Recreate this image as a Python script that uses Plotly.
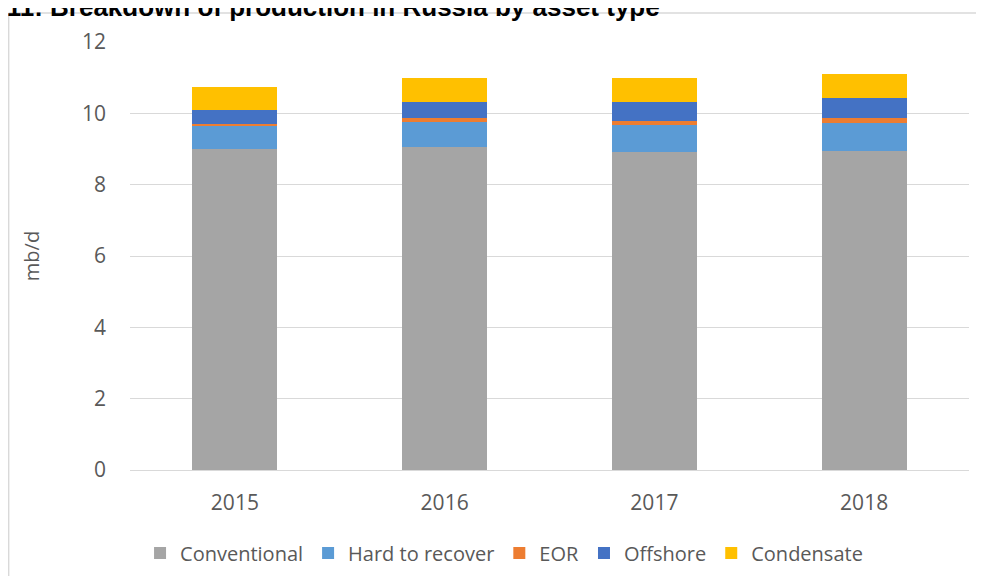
import plotly.graph_objects as go

years = ["2015", "2016", "2017", "2018"]
conventional = [9.00, 9.05, 8.91, 8.94]
hard_to_recover = [0.67, 0.72, 0.77, 0.78]
eor = [0.03, 0.10, 0.11, 0.15]
offshore = [0.39, 0.45, 0.53, 0.56]
condensate = [0.64, 0.67, 0.67, 0.67]

series = [
    ("Conventional", conventional, "#A5A5A5"),
    ("Hard to recover", hard_to_recover, "#5B9BD5"),
    ("EOR", eor, "#ED7D31"),
    ("Offshore", offshore, "#4472C4"),
    ("Condensate", condensate, "#FFC000"),
]

fig = go.Figure()
for name, vals, col in series:
    fig.add_trace(go.Bar(x=years, y=vals, name=name,
                         marker=dict(color=col, line=dict(width=0))))

# page has an 8px body margin; figure coordinates are page - 8
OFF = 8
W, H = 968, 568
L, R, T, B = 121.5, 6.5, 34, 106
pw, ph = W - L - R, H - T - B

def px_x(page_x):
    return (page_x - OFF - L) / pw

def px_y(page_y):
    return (H - B - (page_y - OFF)) / ph

border = dict(color="#D9D9D9", width=1.5)

fig.update_layout(
    width=W, height=H,
    margin=dict(l=L, r=R, t=T, b=B, autoexpand=False),
    barmode="stack", bargap=0.595,
    paper_bgcolor="white", plot_bgcolor="white",
    font=dict(family="Open Sans", color="#595959", size=21),
    showlegend=True,
    legend=dict(orientation="h", x=px_x(504), xanchor="center", y=px_y(553), yanchor="middle",
                font=dict(size=20, color="#595959"), traceorder="normal",
                itemwidth=30, tracegroupgap=0),
    xaxis=dict(showgrid=False, showline=True, linecolor="#D9D9D9", linewidth=1,
               ticks="", tickfont=dict(size=21, color="#595959"), ticklabelstandoff=14),
    yaxis=dict(range=[0, 12], dtick=2, showgrid=True, gridcolor="#D9D9D9", gridwidth=1,
               zeroline=False, showline=False, ticks="",
               tickfont=dict(size=21, color="#595959"), ticklabelstandoff=23,
               title=dict(text="mb/d", font=dict(size=20, color="#595959"), standoff=36)),
    shapes=[
        dict(type="line", xref="paper", yref="paper",
             x0=px_x(8), x1=px_x(8), y0=px_y(600), y1=px_y(13), line=border, layer="below"),
        dict(type="line", xref="paper", yref="paper",
             x0=px_x(8), x1=px_x(1000), y0=px_y(13), y1=px_y(13), line=border, layer="below"),
    ],
    annotations=[
        dict(text="<b>Figure 11: Breakdown of production in Russia by asset type</b>",
             xref="paper", yref="paper", x=px_x(662), y=px_y(7), xanchor="right", yanchor="middle",
             showarrow=False, font=dict(family="Liberation Sans", size=26, color="black")),
    ],
)

fig.write_html("out.html")
